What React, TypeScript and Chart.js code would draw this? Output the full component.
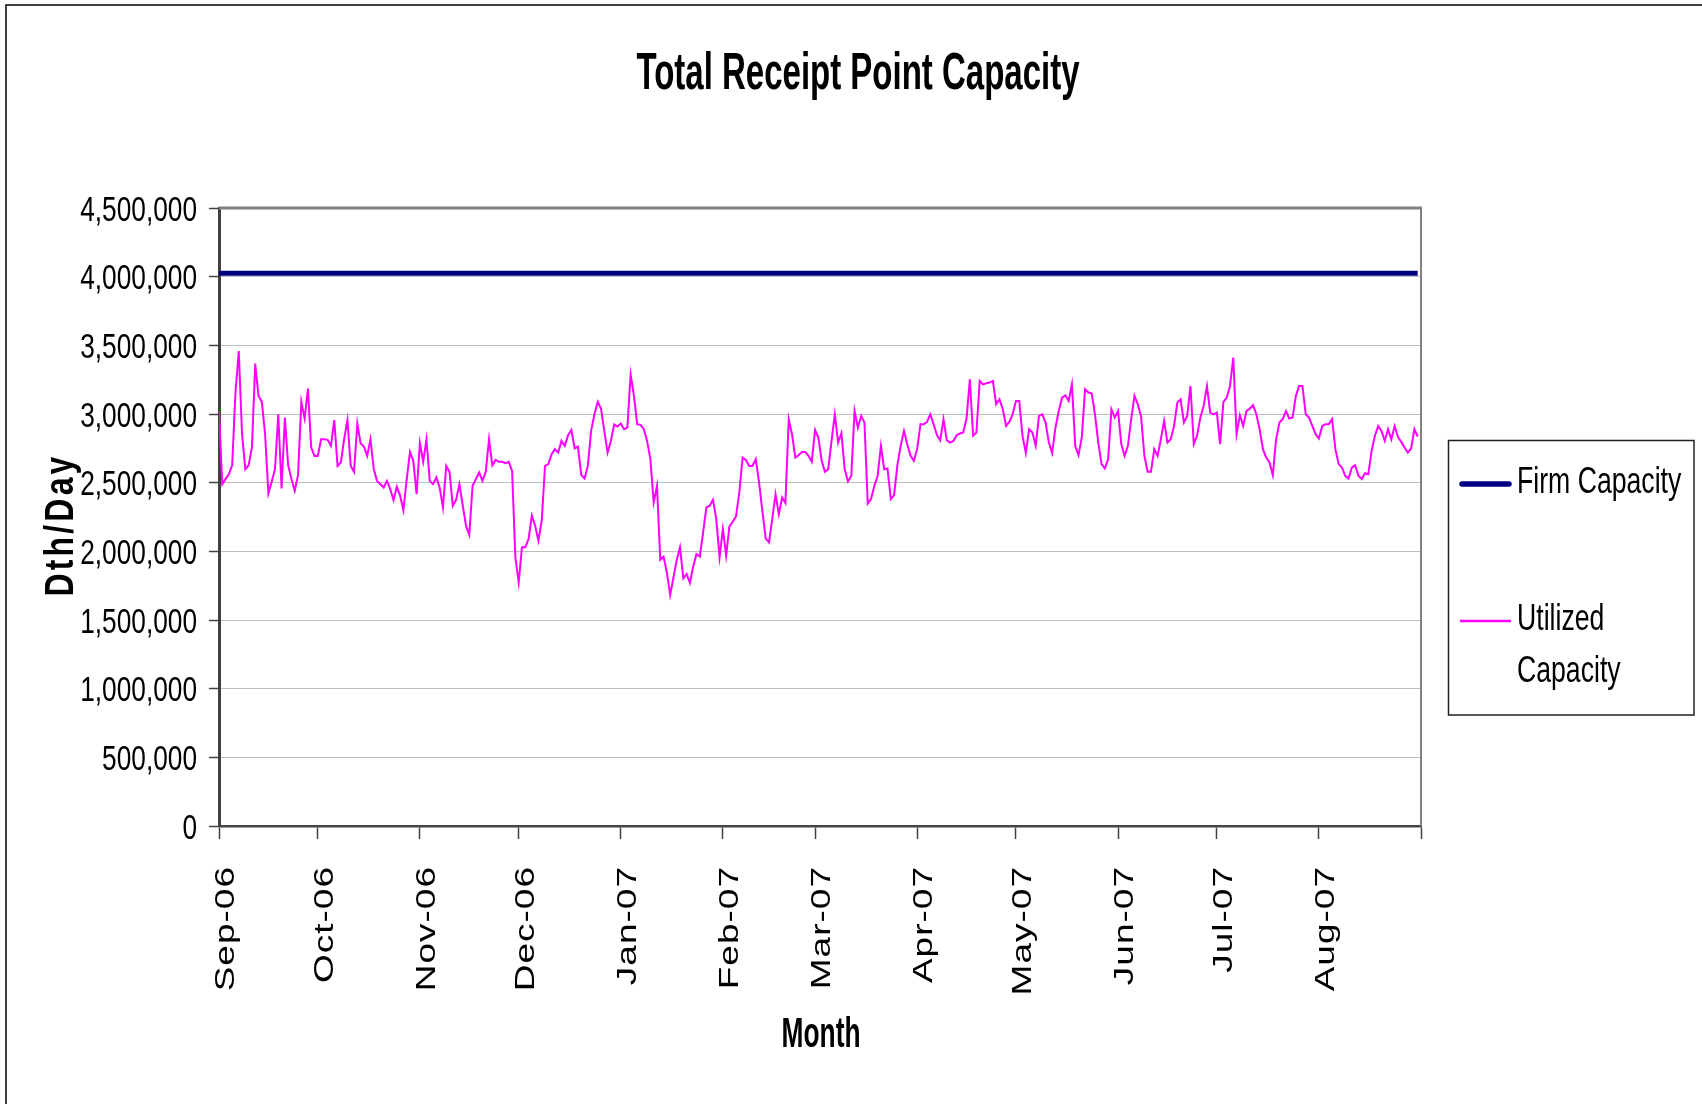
import React, { useEffect, useRef } from 'react';
import { Chart, registerables } from 'chart.js';

Chart.register(...registerables);

// ---------- data ----------
const TITLE = 'Total Receipt Point Capacity';
const Y_TITLE = 'Dth/Day';
const X_TITLE = 'Month';

const MONTH_LABELS = ['Sep-06', 'Oct-06', 'Nov-06', 'Dec-06', 'Jan-07', 'Feb-07', 'Mar-07', 'Apr-07', 'May-07', 'Jun-07', 'Jul-07', 'Aug-07'];
// day index (from 1 Sep 2006) on which each month starts, plus the end of Aug-07
const MONTH_START_DAYS = [0, 30, 61, 91, 122, 153, 181, 212, 242, 273, 303, 334, 365];

const Y_MIN = 0;
const Y_MAX = 4500000;
const Y_STEP = 500000;

const FIRM_LABEL = 'Firm Capacity';
const UTILIZED_LABEL = 'Utilized Capacity';

const FIRM_CAPACITY = 4025000; // Dth/day

// Utilized capacity, daily, in thousands of Dth (1 Sep 2006 .. 31 Aug 2007)
const UTILIZED_KDTH = [
  3022, 2489, 2526, 2562, 2627, 3156, 3459, 2853, 2598, 2627,
  2756, 3367, 3132, 3088, 2853, 2421, 2506, 2598, 2998, 2458,
  2974, 2627, 2526, 2441, 2555, 3088, 2967, 3185, 2756, 2695,
  2695, 2816, 2816, 2812, 2768, 2955, 2622, 2647, 2816, 2955,
  2622, 2579, 2930, 2785, 2763, 2695, 2816, 2598, 2513, 2489,
  2465, 2513, 2453, 2373, 2470, 2404, 2300, 2526, 2724, 2659,
  2416, 2787, 2652, 2816, 2513, 2489, 2538, 2465, 2320, 2622,
  2579, 2332, 2375, 2489, 2336, 2186, 2121, 2477, 2526, 2574,
  2513, 2579, 2816, 2627, 2666, 2652, 2652, 2642, 2652, 2586,
  1956, 1774, 2029, 2029, 2089, 2259, 2186, 2077, 2223, 2622,
  2635, 2707, 2744, 2719, 2804, 2768, 2846, 2884, 2749, 2763,
  2557, 2530, 2622, 2877, 2998, 3088, 3039, 2877, 2719, 2804,
  2925, 2909, 2930, 2889, 2901, 3289, 3132, 2925, 2921, 2889,
  2804, 2671, 2356, 2477, 1939, 1961, 1847, 1682, 1810, 1939,
  2029, 1803, 1835, 1769, 1890, 1980, 1961, 2138, 2320, 2332,
  2375, 2235, 1956, 2162, 1968, 2181, 2215, 2254, 2429, 2683,
  2666, 2622, 2622, 2671, 2501, 2295, 2094, 2065, 2235, 2416,
  2271, 2392, 2351, 2962, 2853, 2683, 2700, 2724, 2724, 2695,
  2652, 2884, 2829, 2659, 2579, 2598, 2804, 2998, 2792, 2860,
  2598, 2509, 2550, 3022, 2901, 2986, 2938, 2349, 2380, 2477,
  2550, 2768, 2598, 2603, 2380, 2409, 2627, 2768, 2877, 2780,
  2695, 2659, 2744, 2925, 2925, 2942, 2998, 2925, 2846, 2809,
  2962, 2809, 2792, 2804, 2846, 2858, 2865, 2967, 3253, 2841,
  2865, 3241, 3216, 3224, 3229, 3241, 3071, 3107, 3035, 2913,
  2942, 2998, 3095, 3095, 2841, 2715, 2889, 2865, 2768, 2986,
  2998, 2938, 2792, 2715, 2901, 3022, 3119, 3136, 3095, 3216,
  2768, 2700, 2829, 3180, 3156, 3151, 2998, 2792, 2635, 2603,
  2671, 3035, 2974, 3022, 2780, 2695, 2768, 2962, 3132, 3071,
  2981, 2695, 2579, 2579, 2744, 2695, 2816, 2950, 2792, 2816,
  2913, 3083, 3107, 2938, 2986, 3204, 2780, 2841, 2974, 3059,
  3204, 3010, 2998, 3010, 2780, 3088, 3119, 3204, 3410, 2853,
  2991, 2913, 3022, 3039, 3064, 2998, 2889, 2744, 2683, 2647,
  2555, 2816, 2938, 2962, 3022, 2967, 2974, 3132, 3204, 3204,
  2998, 2974, 2913, 2853, 2821, 2913, 2925, 2925, 2962, 2744,
  2635, 2610, 2550, 2530, 2610, 2627, 2550, 2526, 2569, 2562,
  2732, 2841, 2913, 2877, 2804, 2889, 2816, 2913, 2833, 2797,
  2756, 2719, 2749, 2889, 2836,
];

// ---------- styling ----------
const W = 1702;
const H = 1104;
const FONT = '"Liberation Sans", Arial, Helvetica, sans-serif';
const FIRM_COLOR = '#000080';
const UTIL_COLOR = '#FF00FF';

type TextOpts = {
  size: number;
  bold?: boolean;
  align?: CanvasTextAlign;
  baseline?: CanvasTextBaseline;
  sx?: number;
  sy?: number;
  rot?: number;
  fitWidth?: number;
  spacing?: number;
};

function drawText(ctx: CanvasRenderingContext2D, text: string, x: number, y: number, o: TextOpts) {
  ctx.save();
  ctx.font = `${o.bold ? 'bold ' : ''}${o.size}px ${FONT}`;
  const anyCtx = ctx as any;
  const canSpace = 'letterSpacing' in anyCtx;
  let sx = o.sx ?? 1;
  if (o.spacing && canSpace) {
    anyCtx.letterSpacing = `${o.spacing}px`;
  }
  if (o.fitWidth) {
    let w = ctx.measureText(text).width;
    if (o.spacing && canSpace) w -= o.spacing; // trailing spacing is not ink
    sx = o.fitWidth / w;
  }
  ctx.translate(x, y);
  if (o.rot) ctx.rotate(o.rot);
  ctx.scale(sx, o.sy ?? 1);
  ctx.textAlign = o.align ?? 'left';
  ctx.textBaseline = o.baseline ?? 'alphabetic';
  ctx.fillStyle = '#000';
  ctx.fillText(text, 0, 0);
  ctx.restore();
}

function wrapWords(ctx: CanvasRenderingContext2D, text: string, maxW: number, sx: number): string[] {
  const words = text.split(' ');
  const lines: string[] = [];
  let cur = '';
  for (const w of words) {
    const test = cur ? cur + ' ' + w : w;
    if (cur && ctx.measureText(test).width * sx > maxW) {
      lines.push(cur);
      cur = w;
    } else {
      cur = test;
    }
  }
  if (cur) lines.push(cur);
  return lines;
}

const decorPlugin = {
  id: 'decor',
  beforeDraw(chart: any) {
    const ctx = chart.ctx as CanvasRenderingContext2D;
    ctx.save();
    ctx.fillStyle = '#ffffff';
    ctx.fillRect(0, 0, chart.width, chart.height);
    ctx.restore();
  },
  afterDatasetsDraw(chart: any) {
    const ctx = chart.ctx as CanvasRenderingContext2D;
    const a = chart.chartArea;
    ctx.save();
    ctx.strokeStyle = '#808080';
    ctx.lineWidth = 3;
    ctx.beginPath();
    ctx.moveTo(a.left, a.top);
    ctx.lineTo(a.right + 1, a.top);
    ctx.stroke();
    ctx.lineWidth = 2;
    ctx.beginPath();
    ctx.moveTo(a.right, a.top);
    ctx.lineTo(a.right, a.bottom);
    ctx.stroke();
    ctx.restore();
  },
  afterDraw(chart: any) {
    const ctx = chart.ctx as CanvasRenderingContext2D;
    const xs = chart.scales.x;
    const ys = chart.scales.y;
    const a = chart.chartArea;

    // outer frame (cropped: only top and left visible)
    ctx.save();
    ctx.strokeStyle = '#000';
    ctx.lineWidth = 1.5;
    ctx.beginPath();
    ctx.moveTo(6, H);
    ctx.lineTo(6, 5);
    ctx.lineTo(W, 5);
    ctx.stroke();
    ctx.restore();

    // title
    drawText(ctx, TITLE, 858, 89, { size: 52, bold: true, align: 'center', fitWidth: 443 });

    // y tick labels
    ys.ticks.forEach((t: any) => {
      const py = ys.getPixelForValue(t.value);
      drawText(ctx, Number(t.value).toLocaleString('en-US'), a.left - 22, py + 12.5, { size: 35, sx: 0.75, align: 'right' });
    });

    // x tick labels (rotated)
    xs.ticks.forEach((t: any, i: number) => {
      if (i >= MONTH_LABELS.length) return;
      const px = xs.getPixelForValue(t.value);
      drawText(ctx, MONTH_LABELS[i], px + 15, a.bottom + 40, { size: 37, rot: -Math.PI / 2, sx: 1, sy: 0.76, spacing: 1, align: 'right' });
    });

    // axis titles
    drawText(ctx, Y_TITLE, 73, (a.top + a.bottom) / 2 + 8, { size: 40, bold: true, rot: -Math.PI / 2, align: 'center', fitWidth: 140, spacing: 4 });
    drawText(ctx, X_TITLE, (a.left + a.right) / 2 + 1, 1047, { size: 42, bold: true, align: 'center', fitWidth: 79 });

    // legend
    ctx.save();
    ctx.strokeStyle = '#202020';
    ctx.lineWidth = 1.5;
    ctx.strokeRect(1448.5, 440.5, 245.5, 274.5);
    ctx.restore();

    const items = chart.data.datasets.map((ds: any) => ({ label: ds.label, color: ds.borderColor, width: ds.borderWidth }));
    const rowY = [493, 630];
    ctx.save();
    ctx.font = `37px ${FONT}`;
    items.forEach((it: any, k: number) => {
      const lines = wrapWords(ctx, it.label, 172, 0.72);
      const base = rowY[k];
      const midY = base - 9;
      ctx.save();
      ctx.strokeStyle = it.color;
      ctx.lineWidth = it.width === 5 ? 5.5 : 2.5;
      ctx.lineCap = it.width === 5 ? 'round' : 'butt';
      ctx.beginPath();
      ctx.moveTo(it.width === 5 ? 1462 : 1460, midY);
      ctx.lineTo(it.width === 5 ? 1509 : 1511, midY);
      ctx.stroke();
      ctx.restore();
      lines.forEach((ln: string, j: number) => {
        drawText(ctx, ln, 1517, base + j * 52, { size: 37, sx: 0.72, align: 'left' });
      });
    });
    ctx.restore();
  },
};

export default function App() {
  const canvasRef = useRef<HTMLCanvasElement | null>(null);

  useEffect(() => {
    document.body.style.margin = '0';
    const canvas = canvasRef.current;
    if (!canvas) return;

    const days = UTILIZED_KDTH.map((_, i) => i);

    const chart = new Chart(canvas, {
      type: 'line',
      data: {
        datasets: [
          {
            label: FIRM_LABEL,
            data: days.map((d) => ({ x: d, y: FIRM_CAPACITY })),
            borderColor: FIRM_COLOR,
            backgroundColor: FIRM_COLOR,
            borderWidth: 5,
            pointRadius: 0,
            tension: 0,
            fill: false,
          },
          {
            label: UTILIZED_LABEL,
            data: days.map((d) => ({ x: d, y: UTILIZED_KDTH[d] * 1000 })),
            borderColor: UTIL_COLOR,
            backgroundColor: UTIL_COLOR,
            borderWidth: 2,
            pointRadius: 0,
            tension: 0,
            fill: false,
          },
        ],
      },
      options: {
        responsive: false,
        animation: false,
        devicePixelRatio: 1,
        layout: { padding: { left: 0, top: 208, right: W - 1421, bottom: H - 826 - 30 } },
        plugins: {
          legend: { display: false },
          title: { display: false },
          tooltip: { enabled: false },
        },
        scales: {
          x: {
            type: 'linear',
            min: MONTH_START_DAYS[0],
            max: MONTH_START_DAYS[MONTH_START_DAYS.length - 1],
            afterBuildTicks: (s: any) => {
              s.ticks = MONTH_START_DAYS.map((v) => ({ value: v }));
            },
            afterFit: (s: any) => {
              s.height = 30;
            },
            ticks: { display: false },
            grid: {
              display: true,
              drawOnChartArea: false,
              drawTicks: true,
              tickLength: 13,
              tickColor: '#404040',
              tickWidth: 1.5,
            },
            border: { display: true, color: '#454545', width: 2.5 },
          },
          y: {
            min: Y_MIN,
            max: Y_MAX,
            afterFit: (s: any) => {
              s.width = 219;
            },
            ticks: { display: false, stepSize: Y_STEP },
            grid: {
              color: '#bdbdbd',
              lineWidth: 1,
              drawTicks: true,
              tickLength: 10,
              tickColor: '#404040',
              tickWidth: 1.5,
            },
            border: { display: true, color: '#404040', width: 3 },
          },
        },
      } as any,
      plugins: [decorPlugin as any],
    });

    return () => {
      chart.destroy();
    };
  }, []);

  return (
    <div style={{ width: W, height: H, position: 'relative', background: '#fff' }}>
      <canvas ref={canvasRef} width={W} height={H} style={{ display: 'block', width: W, height: H }} />
    </div>
  );
}
